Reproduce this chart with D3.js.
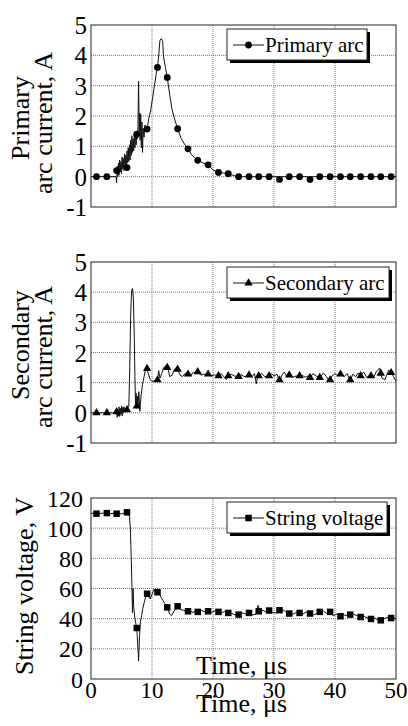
<!DOCTYPE html>
<html>
<head>
<meta charset="utf-8">
<script src="https://cdn.jsdelivr.net/npm/d3@7"></script>
<style>
  body { margin: 0; background: #fff; }
  svg { display: block; font-family: "Liberation Serif", "Times New Roman", serif; }
</style>
</head>
<body>
<svg width="408" height="726"></svg>
<script>
// page size
const width = 408
const height = 726

// ---- data ----
const timeTicks = [0, 10, 20, 30, 40, 50]
const currentTicks = [-1, 0, 1, 2, 3, 4, 5]
const voltageTicks = [0, 20, 40, 60, 80, 100, 120]

// marker times (us), same for all three traces
const markerTimes = [0.9, 2.6, 4.2, 5.9, 7.5, 9.2, 10.9, 12.5, 14.2, 15.9, 17.5, 19.2, 20.9, 22.5, 24.2,
  25.9, 27.5, 29.2, 30.9, 32.5, 34.2, 35.9, 37.5, 39.2, 40.9, 42.5, 44.2, 45.9, 47.5, 49.2]

const primaryMarkers = [0, 0, 0.2, 0.3, 1.4, 1.57, 3.6, 3.27, 1.58, 0.92, 0.54, 0.39, 0.14, 0.1, 0,
  0, 0, 0, -0.09, 0, 0, -0.09, 0, 0, 0, 0, 0, 0, 0, 0]
const secondaryMarkers = [0, 0, 0.03, 0.1, 0.22, 1.47, 1.09, 1.5, 1.44, 1.28, 1.36, 1.28, 1.23, 1.23, 1.2,
  1.25, 1.23, 1.23, 1.09, 1.25, 1.23, 1.17, 1.17, 1.09, 1.28, 1.09, 1.23, 1.23, 1.31, 1.33]
const voltageMarkers = [109.6, 110, 109.6, 110.5, 33.8, 56.5, 57.5, 47.5, 48.2, 44.9, 44.5, 44.9, 44.5, 43.8, 42.7,
  43.8, 44.9, 45.4, 45.6, 43.4, 43.8, 43.4, 44.5, 44.5, 41.6, 42.7, 41.1, 39.8, 38.9, 40.4]

// full traces [time, value]
const primaryTrace = [[0,0],[4.1,0],[4.2,-0.2],[4.3,0.35],[4.4,0.0],[4.5,0.45],[4.6,0.05],[4.7,0.55],[4.8,0.15],[4.9,0.5],
  [5.0,0.1],[5.1,0.65],[5.2,0.25],[5.3,0.6],[5.4,0.2],[5.5,0.75],[5.6,0.35],[5.7,0.7],[5.8,0.25],[5.9,0.85],
  [6.0,0.45],[6.1,0.95],[6.2,0.5],[6.3,1.05],[6.4,0.55],[6.5,1.2],[6.6,0.7],[6.7,1.35],[6.8,0.8],[6.9,1.25],
  [7.0,0.85],[7.1,1.4],[7.2,0.95],[7.3,1.5],[7.4,1.05],[7.5,1.4],[7.6,1.25],[7.7,1.65],[7.8,3.15],[7.9,1.5],
  [8.0,2.1],[8.05,1.2],[8.15,2.05],[8.25,0.95],[8.35,1.8],[8.45,0.8],[8.55,1.6],[8.7,1.3],[8.85,1.7],[9.0,1.5],
  [9.2,1.57],[9.5,1.95],[9.8,2.2],[10.1,2.6],[10.4,3.0],[10.7,3.4],[10.9,3.6],[11.1,4.0],[11.3,4.5],[11.55,4.55],
  [11.75,4.45],[11.9,3.95],[12.2,3.6],[12.5,3.27],[12.9,2.7],[13.3,2.2],[13.7,1.9],[14.2,1.58],[14.8,1.25],[15.4,1.05],
  [15.9,0.92],[16.5,0.72],[17.0,0.62],[17.5,0.54],[18.3,0.46],[19.2,0.39],[20.0,0.22],[20.9,0.14],[21.7,0.12],[22.5,0.1],
  [23.5,0.03],[24.2,0],[30.5,0],[30.9,-0.09],[31.3,0],[35.5,0],[35.9,-0.09],[36.3,0],[50,0]]

const secondaryTrace = [[0,0],[4.2,0],[4.3,-0.15],[4.4,0.12],[4.5,-0.1],[4.6,0.2],[4.7,-0.12],[4.8,0.15],[4.9,-0.05],[5.0,0.22],
  [5.1,-0.1],[5.2,0.18],[5.3,0.0],[5.4,0.2],[5.5,0.05],[5.6,0.15],[5.8,0.12],[6.0,0.15],[6.2,0.2],[6.35,1.5],
  [6.5,3.2],[6.65,4.05],[6.8,4.12],[6.95,3.8],[7.1,2.5],[7.2,1.2],[7.3,0.3],[7.4,0.65],[7.5,0.15],[7.6,0.55],
  [7.7,0.25],[7.85,0.7],[8.0,0.05],[8.2,0.55],[8.45,0.95],[8.7,1.2],[8.95,1.45],[9.15,1.5],[9.4,1.3],[9.7,1.1],
  [10.0,1.05],[10.3,1.05],[10.6,1.08],[10.9,1.1],[11.1,1.4],[11.3,1.15],[11.6,1.3],[11.9,1.5],[12.3,1.55],[12.6,1.5],
  [12.9,1.2],[13.3,1.25],[13.7,1.45],[14.0,1.5],[14.2,1.44],[14.6,1.25],[15.0,1.2],[15.4,1.3],[15.9,1.28],[16.3,1.22],
  [16.8,1.35],[17.2,1.3],[17.5,1.36],[18.0,1.25],[18.5,1.28],[19.2,1.28],[19.7,1.22],[20.2,1.26],[20.9,1.23],[21.3,1.3],
  [21.8,1.2],[22.2,1.1],[22.5,1.23],[23.0,1.28],[23.5,1.22],[24.2,1.2],[24.6,1.27],[25.1,1.2],[25.9,1.25],[26.4,1.2],
  [26.8,1.3],[27.1,0.96],[27.3,1.2],[27.5,1.24],[28,1.3],[28.5,1.2],[29.2,1.24],[29.6,1.3],[30,1.22],[30.5,1.28],
  [30.9,1.05],[31.3,1.25],[31.7,1.35],[32.1,1.2],[32.5,1.24],[33.1,1.18],[33.6,1.22],[34.2,1.22],[34.6,1.25],[35.1,1.18],
  [35.6,1.22],[35.9,1.17],[36.4,1.3],[36.9,1.22],[37.5,1.17],[38.1,1.32],[38.6,1.2],[39.1,1.05],[39.5,1.22],[40,1.3],
  [40.5,1.22],[40.9,1.28],[41.5,1.2],[42,1.3],[42.5,1.05],[42.9,1.28],[43.4,1.2],[43.8,1.32],[44.2,1.23],[44.7,1.35],
  [45.2,1.18],[45.9,1.25],[46.4,1.2],[46.8,1.38],[47.3,1.48],[47.7,1.15],[48.2,1.1],[48.8,1.42],[49.2,1.33],[49.6,1.2],[50,1.05]]

const voltageTrace = [[0,110],[1,109.5],[2,110],[3,109.6],[4,109.8],[5,109.5],[6.0,110.5],[6.3,108],[6.45,100],[6.6,80],
  [6.75,55],[6.8,44],[6.9,60],[7.0,48],[7.2,40],[7.5,33.8],[7.7,20],[7.8,12],[7.95,28],[8.1,38],
  [8.3,42],[8.5,47],[8.8,52],[9.1,56.5],[9.4,55],[9.7,53],[10.0,56],[10.3,59.5],[10.6,58.5],[10.9,57.5],
  [11.2,57],[11.5,54],[11.8,52],[12.1,50],[12.5,47.5],[12.9,43],[13.2,42],[13.6,45],[14.2,48.2],[14.7,46],
  [15.2,45.5],[15.7,44.9],[16.2,45.5],[16.7,44],[17.1,45],[17.6,44.5],[18.1,45.5],[18.7,44.5],[19.2,44.9],[19.7,44],
  [20.3,45.2],[20.9,44.5],[21.4,44],[22,44.8],[22.5,43.8],[23.1,43.5],[23.6,42.5],[24.4,42.7],[24.9,43.8],[25.4,43],
  [25.9,43.8],[26.4,42.5],[27,42.8],[27.4,48.8],[27.7,44.9],[28.2,45.5],[28.7,44.5],[29.2,45.4],[29.8,44],[30.4,43.8],
  [30.9,45.6],[31.4,46],[31.9,44.5],[32.4,43.4],[33,42.8],[33.6,44],[34.1,43.8],[34.7,43],[35.3,44.5],[35.9,43.4],
  [36.5,42.5],[37,43.5],[37.6,44.5],[38.1,45],[38.6,43.5],[39.2,44.5],[39.7,42],[40.3,43],[40.9,41.6],[41.4,42.5],
  [42,42],[42.5,42.7],[43,43],[43.6,42],[44.2,41.1],[44.8,41.5],[45.3,40.5],[45.8,39.8],[46.4,40.5],[46.9,39.5],
  [47.5,38.9],[48,40],[48.6,40.8],[49.2,40.4],[50,40]]

// ---- layout ----
const svg = d3.select("svg")
const plotLeft = 91, plotRight = 396

const xScale = d3.scaleLinear().domain([0, 50]).range([plotLeft, plotRight])

const line = d3.line()
  .x(d => xScale(d[0]))
  .y(d => d.y)

const panels = [
  {top: 25, bottom: 207, ticks: currentTicks, trace: primaryTrace, markers: primaryMarkers,
   symbol: d3.symbolCircle, symSize: 36, legend: "Primary arc", legendX: 227, legendY: 29, legendW: 140,
   titles: [["Primary", 29, 118], ["arc current, A", 52, 123]], tickX: 87, tickSize: 25},
  {top: 262, bottom: 443, ticks: currentTicks, trace: secondaryTrace, markers: secondaryMarkers,
   symbol: d3.symbolTriangle, symSize: 30, legend: "Secondary arc", legendX: 227, legendY: 267, legendW: 162,
   titles: [["Secondary", 29, 345], ["arc current, A", 52, 357]], tickX: 87, tickSize: 25},
  {top: 498, bottom: 679, ticks: voltageTicks, trace: voltageTrace, markers: voltageMarkers,
   symbol: d3.symbolSquare, symSize: 42, legend: "String voltage", legendX: 227, legendY: 502, legendW: 160,
   titles: [["String voltage, V", 33, 586]], tickX: 83, tickSize: 24}
]

panels.forEach(function(pn) {
  const yScale = d3.scaleLinear()
    .domain([pn.ticks[0], pn.ticks[pn.ticks.length - 1]])
    .range([pn.bottom, pn.top])
  const g = svg.append("g")

  // grid
  g.selectAll(".hgrid")
    .data(pn.ticks.slice(1, -1))
    .join("line")
    .attr("x1", plotLeft).attr("x2", plotRight)
    .attr("y1", d => yScale(d)).attr("y2", d => yScale(d))
    .attr("stroke", "#777").attr("stroke-width", 1).attr("stroke-dasharray", "1,1")
  g.selectAll(".vgrid")
    .data(timeTicks.slice(1, -1))
    .join("line")
    .attr("x1", d => xScale(d)).attr("x2", d => xScale(d))
    .attr("y1", pn.top).attr("y2", pn.bottom)
    .attr("stroke", "#777").attr("stroke-width", 1).attr("stroke-dasharray", "1,1")

  // frame
  g.append("rect")
    .attr("x", plotLeft).attr("y", pn.top)
    .attr("width", plotRight - plotLeft).attr("height", pn.bottom - pn.top)
    .attr("fill", "none").attr("stroke", "#222").attr("stroke-width", 1)

  // y tick labels
  g.selectAll(".ylab")
    .data(pn.ticks)
    .join("text")
    .attr("x", pn.tickX)
    .attr("y", d => yScale(d))
    .attr("dy", "0.36em")
    .attr("text-anchor", "end")
    .attr("font-size", pn.tickSize)
    .text(d => d)

  // y titles
  pn.titles.forEach(function(t) {
    g.append("text")
      .attr("transform", "translate(" + t[1] + "," + t[2] + ") rotate(-90)")
      .attr("text-anchor", "middle")
      .attr("font-size", 26)
      .text(t[0])
  })

  // trace
  g.append("path")
    .datum(pn.trace.map(d => ({0: d[0], y: yScale(d[1])})))
    .attr("fill", "none")
    .attr("stroke", "#111")
    .attr("stroke-width", 1)
    .attr("d", line)

  // markers
  const sym = d3.symbol().type(pn.symbol).size(pn.symSize)
  g.selectAll(".mk")
    .data(pn.markers)
    .join("path")
    .attr("transform", (d, i) => "translate(" + xScale(markerTimes[i]) + "," + yScale(d) + ")")
    .attr("d", sym)
    .attr("fill", "#000")

  // legend
  const lg = g.append("g").attr("transform", "translate(" + pn.legendX + "," + pn.legendY + ")")
  lg.append("rect").attr("x", 3).attr("y", 3).attr("width", pn.legendW).attr("height", 31).attr("fill", "#000")
  lg.append("rect").attr("x", 0).attr("y", 0).attr("width", pn.legendW).attr("height", 31)
    .attr("fill", "#fff").attr("stroke", "#222").attr("stroke-width", 1)
  lg.append("line").attr("x1", 6).attr("x2", 37).attr("y1", 16).attr("y2", 16)
    .attr("stroke", "#111").attr("stroke-width", 1)
  lg.append("path").attr("transform", "translate(21.5,16)").attr("d", sym).attr("fill", "#000")
  lg.append("text").attr("x", 38).attr("y", 23).attr("font-size", 21).text(pn.legend)
})

// x tick labels (bottom panel only)
svg.selectAll(".xlab")
  .data(timeTicks)
  .join("text")
  .attr("x", d => xScale(d))
  .attr("y", 698)
  .attr("text-anchor", "middle")
  .attr("font-size", 23)
  .text(d => d)

// x titles: one inside the plot, one below
svg.append("text").attr("x", 241.5).attr("y", 674).attr("text-anchor", "middle")
  .attr("font-size", 26).text("Time, μs")
svg.append("text").attr("x", 241.5).attr("y", 712).attr("text-anchor", "middle")
  .attr("font-size", 26).text("Time, μs")
</script>
</body>
</html>
